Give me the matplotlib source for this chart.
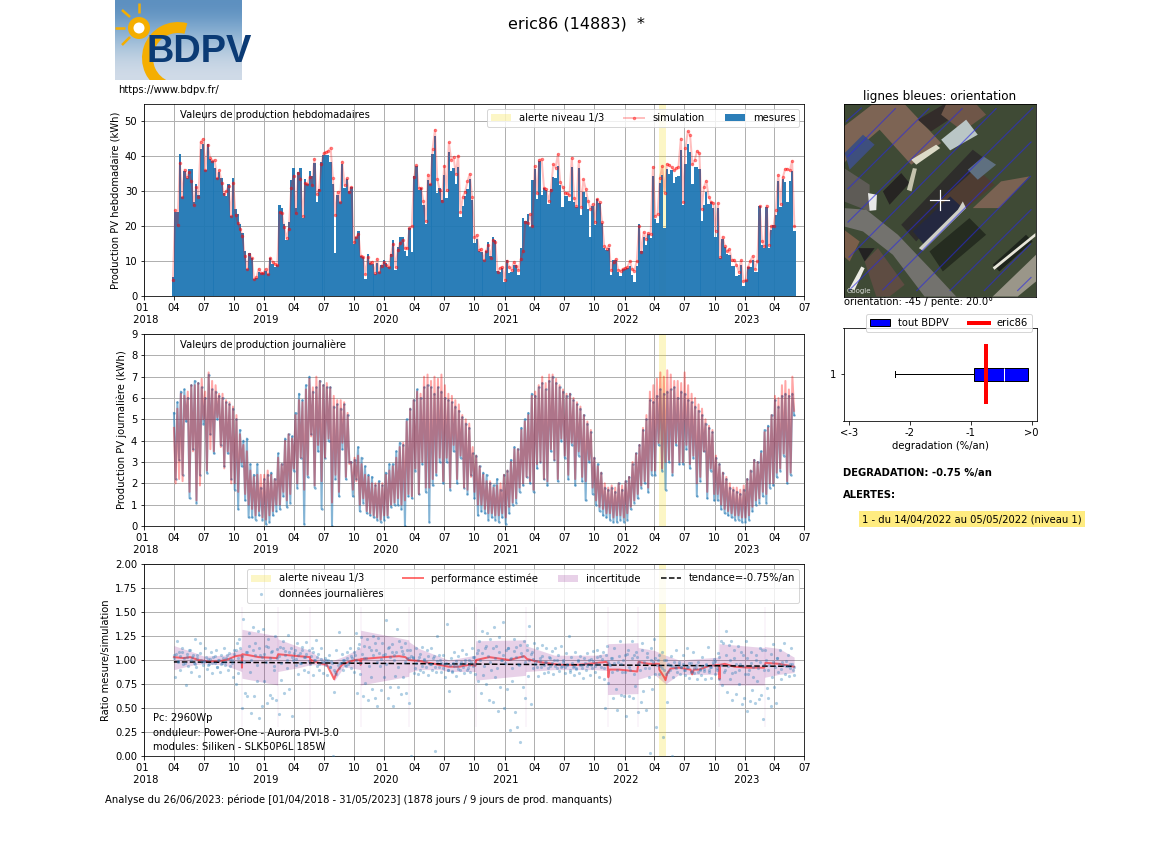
import matplotlib
matplotlib.use("Agg")
import matplotlib.dates as mdates
import matplotlib.pyplot as plt
import numpy as np
from matplotlib.lines import Line2D
from matplotlib.patches import Circle, Patch, Polygon, Wedge

W, H = 1152, 864

# valeurs hebdomadaires (kWh), une ligne par trimestre, depuis avril 2018
week_first, week_last = "2018-03-29", "2023-06-01"
week_mes = [
    5.3, 24, 24, 40.6, 28.5, 35.7, 33.8, 36.3, 36.3, 27, 32, 28.8, 42,
    43.5, 36, 43.5, 39.3, 38.7, 36.7, 33.7, 35.5, 33.7, 29.5, 28.6, 32, 22.8,
    33.8, 25, 23.5, 20.7, 18, 13, 7.8, 12.3, 11, 5, 5.2, 7, 6.5,
    6.5, 7.2, 6.3, 11, 9.2, 8.3, 9, 26, 25.2, 20.7, 16, 21.2, 33.2,
    36.6, 25.2, 35.5, 36.6, 22.3, 33.5, 32.2, 35.7, 34.5, 38, 27, 30.7, 38.5,
    40.3, 40.5, 40.4, 38.5, 32, 12.4, 29, 27, 37.8, 31, 33.5, 30, 31.2,
    14.8, 17, 18.6, 11.5, 11.2, 5, 12, 9.5, 9.2, 6.4, 9.5, 7, 9,
    10.3, 9.5, 8.3, 12, 16, 7.5, 14, 16.9, 16.9, 13, 11.5, 19.5, 12.6,
    34.3, 37.2, 30.5, 31, 26, 20.5, 33.2, 32, 40.7, 45.8, 29.6, 30.8, 27.5,
    34.6, 28, 41.2, 35.8, 36.6, 32.2, 36.9, 22.7, 25.8, 28.7, 30.6, 33.5, 27.5,
    15.3, 16.4, 12.8, 12.5, 10.2, 13, 15.6, 11.5, 17, 16, 7.3, 6.8, 8,
    3.9, 10.2, 6.6, 6.8, 9, 9, 6.1, 13.7, 22.3, 21.5, 23.5, 19.9, 33.2,
    36.4, 27.8, 38.7, 29, 30.9, 30.5, 26.3, 30.6, 34, 33.7, 37.2, 31.8, 25.5,
    28.7, 28.7, 27.2, 36.9, 26.9, 25.6, 36.8, 23.2, 29.9, 28.5, 24.9, 17, 25.9,
    20.2, 27.8, 26.6, 21, 13.7, 13.2, 13.7, 6.1, 10.4, 10.2, 6.8, 5.6, 7.7,
    7.8, 8, 8.7, 6.1, 4, 8.5, 20.6, 12.8, 16.9, 14.5, 17.7, 16.6, 34.4,
    22.1, 20.8, 32.5, 34.7, 19.6, 36.4, 35, 36, 32.3, 34.2, 34.4, 41.8, 26.1,
    37.8, 43.4, 41.3, 32.1, 37, 37, 36.4, 21.6, 26.1, 29.9, 26.3, 26.9, 25.1,
    17, 25.3, 10.9, 16.4, 13.9, 12, 11.8, 8.7, 8.7, 5.6, 6.1, 9, 3,
    4.7, 8.3, 8.3, 10.2, 6.8, 6.8, 25.8, 14.5, 13.7, 25.4, 13.7, 19, 20.2,
    23.2, 33, 25.6, 33.5, 32.6, 26.9, 33, 35.8, 18.5,
]
week_sim = [
    4.5, 24.5, 20.3, 38.2, 28.5, 36.2, 34, 35.5, 32.8, 26, 31.2, 28.5, 44.2,
    45, 36, 43.3, 39.5, 38.8, 39, 33.7, 36, 32.5, 29.3, 30, 31.5, 23,
    32.5, 23.3, 21, 19.3, 17.2, 11.5, 7.8, 12, 10.8, 5, 5.3, 7.8, 6.6,
    6.6, 7.7, 6.2, 11, 9.7, 9.2, 8.9, 24, 23.8, 19.7, 16.6, 19.3, 31,
    34.5, 23.7, 35.3, 33.5, 22.8, 32.3, 32, 34.2, 31.8, 39.3, 29.2, 30.3, 37.7,
    41, 41.2, 41.5, 42.5, 33.7, 23.2, 29.7, 27, 38.5, 31.7, 33.7, 29.8, 31.2,
    15.4, 16.8, 17.7, 11.5, 11.3, 6.2, 11.2, 9.5, 9.8, 6.5, 10.7, 7, 8.7,
    9.6, 8.8, 8.2, 11.8, 15, 8.2, 13.2, 15.2, 16, 13.8, 13.7, 19.5, 20,
    34, 37.4, 31, 30.8, 27.2, 21.5, 34.8, 32, 42.2, 47.6, 33.4, 30.5, 27.2,
    37.3, 30.3, 44, 39, 39.8, 35, 40.2, 24, 28.4, 29.8, 32.8, 35, 28.3,
    17, 17.5, 13.2, 13.5, 10.4, 12.8, 14.6, 10.9, 16, 15.4, 7, 8, 8.3,
    4.7, 10.1, 8.2, 7.5, 9.7, 8.5, 7.5, 10.6, 13, 21.3, 20.9, 23.4, 20,
    37.2, 29.4, 39, 39.2, 31, 30.6, 27.2, 30.4, 37.7, 36.8, 40.6, 32.6, 31.3,
    29.6, 29.4, 28.8, 39.6, 28, 25.8, 38.7, 25.6, 33.4, 30.7, 27.2, 25, 26.3,
    21.3, 27.8, 26.8, 21.3, 14.2, 13.5, 14.5, 7.5, 9.7, 10.6, 7.5, 7.2, 7.8,
    8, 8.2, 10.1, 7.7, 7.3, 9.9, 20, 12.6, 18.3, 16.4, 18, 17.7, 37,
    23, 23.5, 33.7, 37.2, 29.6, 37.8, 37.5, 36.9, 36, 36.6, 37, 45.1, 26.9,
    42.3, 47.2, 46.1, 37.7, 39, 41.5, 40.9, 24.9, 31.3, 33, 28.5, 27, 26.6,
    18.7, 26.6, 11.3, 17, 14.2, 12.8, 13.4, 10.2, 10.4, 9, 7, 10.2, 4.2,
    4.7, 8.3, 10.1, 11.5, 7.7, 10.1, 25.8, 15.8, 14.2, 25.9, 14.7, 20, 20,
    24.7, 34.7, 26.3, 34, 36.4, 36.4, 36, 38.7, 20,
]

# valeurs journalières relevées (kWh), une ligne par trimestre
day_first, day_last = "2018-04-01", "2023-05-31"
day_mes = [
    5.3, 2.2, 5.8, 3.1, 6.3, 2.4, 6.4, 4.9, 6.0, 1.3, 6.6, 3.6, 6.8, 1.1, 6.7, 2.4, 6.5, 4.8,
    6.0, 2.5, 7.1, 4.3, 6.4, 3.4, 6.3, 5.0, 6.1, 3.8, 6.0, 2.8, 5.8, 3.4, 5.7, 2.2,
    5.5, 1.7, 5.0, 0.8, 4.5, 2.8, 4.0, 1.2, 4.1, 0.4, 2.9, 0.4, 2.4, 0.3, 2.9, 0.5, 1.8, 0.3,
    2.2, 0.1, 2.4, 0.2, 2.5, 0.5, 2.2, 0.7, 3.4, 0.8, 2.9, 1.4, 4.1, 0.9, 4.3, 1.1, 4.2, 2.6,
    5.3, 1.8, 6.2, 3.2, 5.9, 0.1, 6.6, 2.3, 7.0, 4.3, 6.3, 1.8, 6.5, 3.5, 6.8, 0.8, 6.6, 3.2,
    6.5, 4.0, 6.5, 0.0, 5.6, 2.2, 5.7, 1.4, 5.5, 3.6, 5.7, 2.2, 5.2, 3.0,
    3.0, 1.4, 3.1, 2.2, 3.7, 0.7, 3.2, 1.1, 2.8, 0.6, 2.4, 0.5, 2.3, 0.4, 1.9, 0.3, 2.1, 0.2,
    1.9, 0.3, 2.5, 0.4, 2.9, 0.9, 2.9, 1.0, 3.5, 1.0, 3.9, 0.8, 3.8, 0.0, 5.0, 1.4,
    5.5, 1.3, 5.9, 2.6, 6.4, 1.5, 6.0, 2.9, 6.5, 1.6, 6.6, 0.2, 6.5, 1.9, 6.2, 2.4, 6.5, 3.0,
    6.3, 2.0, 6.0, 3.0, 5.9, 1.7, 5.8, 3.5, 5.6, 2.0, 5.4, 3.2, 5.1, 1.8, 4.8, 1.5, 4.6, 2.4,
    3.4, 1.3, 3.3, 0.5, 2.8, 0.7, 2.5, 0.6, 2.4, 0.3, 2.0, 0.4, 1.9, 0.3, 2.2, 0.2, 1.7, 0.4,
    2.4, 0.1, 2.6, 0.6, 3.1, 1.0, 3.7, 1.1, 3.6, 1.6, 4.6, 1.9, 5.0, 2.3, 5.3, 2.0,
    6.2, 1.6, 6.1, 2.7, 6.5, 3.0, 6.7, 2.2, 6.4, 1.9, 6.8, 3.5, 7.0, 3.1, 6.7, 2.1, 6.5, 4.0,
    6.3, 3.2, 6.1, 2.2, 6.2, 3.8, 5.9, 1.9, 5.7, 3.3, 5.5, 2.1, 5.2, 1.2, 4.8, 3.0, 4.4, 1.5,
    3.2, 1.0, 2.9, 0.7, 2.5, 0.5, 1.8, 0.4, 1.7, 0.3, 1.8, 0.2, 1.6, 0.2, 2.0, 0.3, 1.7, 0.2,
    2.1, 0.3, 2.3, 0.8, 2.9, 1.1, 3.4, 1.3, 3.8, 1.8, 4.5, 2.0, 5.0, 1.6, 5.9, 2.4,
    5.8, 2.4, 6.1, 3.8, 6.4, 2.6, 6.2, 1.7, 6.3, 3.0, 6.4, 2.4, 6.5, 3.8, 6.0, 2.9, 6.3, 2.9,
    6.2, 3.6, 5.9, 2.7, 5.8, 3.2, 5.6, 1.4, 5.4, 2.1, 5.2, 3.5, 4.8, 1.3, 4.6, 2.6, 4.4, 1.2,
    3.2, 1.2, 2.9, 0.8, 2.5, 0.6, 2.2, 0.5, 1.8, 0.4, 1.7, 0.3, 1.6, 0.3, 1.5, 0.2, 1.7, 0.2,
    2.2, 0.3, 2.6, 0.7, 3.1, 1.0, 3.0, 1.1, 3.5, 1.4, 4.5, 1.1, 4.7, 1.8, 5.2, 1.9,
    5.9, 2.3, 5.6, 2.6, 6.1, 3.3, 6.2, 2.0, 6.1, 2.4, 6.2, 5.2,
]
day_sim = [
    4.6, 2.0, 5.5, 2.2, 6.2, 2.1, 6.1, 5.0, 6.3, 1.6, 6.6, 3.5, 6.6, 1.2, 6.7, 1.9, 6.9, 5.0,
    6.3, 2.6, 7.2, 3.6, 6.8, 3.5, 6.6, 5.1, 6.2, 3.7, 6.2, 2.7, 5.9, 3.5, 5.8, 2.0,
    5.6, 2.0, 5.2, 1.6, 4.3, 3.0, 3.8, 1.5, 3.5, 1.0, 2.6, 0.8, 2.3, 0.5, 2.4, 0.7, 2.4, 0.4,
    2.4, 0.3, 2.6, 0.5, 2.4, 0.7, 2.2, 1.0, 3.2, 1.0, 2.9, 1.6, 4.0, 1.2, 4.3, 1.5, 4.1, 2.7,
    5.2, 2.0, 5.9, 3.2, 5.8, 1.7, 6.4, 2.4, 6.9, 4.2, 6.5, 1.9, 7.0, 3.8, 6.8, 2.1, 6.6, 3.2,
    6.7, 4.1, 6.5, 1.1, 6.1, 2.4, 5.9, 1.6, 5.9, 3.9, 5.8, 2.3, 5.3, 2.9,
    3.0, 1.7, 3.2, 2.1, 3.3, 1.0, 2.9, 1.3, 2.4, 0.7, 2.3, 0.6, 2.0, 0.5, 2.0, 0.4, 2.0, 0.3,
    2.0, 0.5, 2.4, 0.5, 2.6, 1.0, 2.8, 1.1, 3.2, 1.3, 3.7, 1.0, 3.9, 1.2, 4.9, 1.5,
    5.5, 1.4, 5.9, 2.7, 6.3, 1.5, 6.2, 3.0, 7.0, 1.8, 7.1, 1.8, 6.8, 2.2, 7.0, 2.5, 6.9, 3.2,
    7.1, 2.1, 6.6, 3.2, 6.2, 1.8, 6.1, 3.8, 5.9, 2.2, 5.7, 3.3, 5.2, 1.8, 5.0, 1.7, 4.8, 2.3,
    3.7, 1.6, 3.3, 1.0, 2.8, 1.0, 2.4, 0.8, 2.1, 0.6, 2.1, 0.6, 1.8, 0.5, 1.9, 0.5, 2.0, 0.6,
    2.4, 0.4, 2.6, 0.9, 3.0, 1.1, 3.6, 1.3, 3.6, 1.8, 4.5, 2.0, 4.9, 2.3, 5.2, 2.1,
    6.1, 1.7, 6.3, 2.9, 6.6, 3.0, 7.0, 2.2, 6.7, 2.1, 7.1, 3.6, 7.1, 3.1, 6.9, 2.2, 6.6, 4.1,
    6.4, 3.3, 6.2, 2.4, 6.2, 3.9, 6.0, 2.2, 5.8, 3.5, 5.6, 2.3, 5.2, 2.1, 4.9, 3.1, 4.5, 1.8,
    3.2, 1.2, 2.8, 0.9, 2.5, 0.8, 2.0, 0.6, 1.8, 0.6, 1.9, 0.4, 1.8, 0.5, 2.0, 0.5, 1.9, 0.4,
    2.1, 0.6, 2.3, 0.9, 3.0, 1.2, 3.4, 1.5, 3.8, 1.9, 4.6, 2.1, 5.2, 1.8, 6.3, 2.6,
    6.6, 2.6, 6.9, 3.9, 7.2, 2.7, 7.0, 3.0, 7.3, 3.1, 7.1, 2.5, 6.8, 3.9, 6.8, 3.0, 6.7, 3.0,
    7.2, 3.8, 6.6, 2.9, 6.2, 3.3, 6.0, 2.0, 5.7, 2.3, 5.5, 3.5, 5.0, 1.6, 4.7, 2.7, 4.5, 1.5,
    3.3, 1.5, 2.9, 1.0, 2.5, 0.8, 2.3, 0.7, 2.0, 0.6, 1.8, 0.5, 1.8, 0.5, 1.7, 0.4, 1.9, 0.4,
    2.2, 0.5, 2.6, 0.9, 3.1, 1.2, 3.0, 1.3, 3.4, 1.6, 4.4, 1.5, 4.6, 2.0, 5.2, 2.0,
    6.1, 2.5, 6.0, 2.7, 6.6, 3.4, 6.8, 2.1, 6.4, 2.5, 7.0, 5.4,
]

# rapport mesure/simulation relevé, une ligne par trimestre
ratio_first, ratio_last = "2018-04-01", "2023-05-31"
day_ratio = [
    1.05, 0.82, 1.20, 0.98, 1.08, 0.90, 1.12, 0.96, 1.02, 0.74, 1.06, 0.94, 1.10, 0.88, 1.03, 0.97, 1.22, 0.93, 1.05, 0.83, 1.18, 1.00, 0.95,
    0.99, 1.12, 0.91, 1.01, 0.96, 1.08, 0.86, 1.03, 0.97, 1.10, 0.93, 1.00, 0.88, 1.05, 0.97, 1.13, 0.95, 1.02, 0.90, 1.07, 0.94, 1.00, 0.82,
    1.10, 0.75, 1.18, 0.86, 1.22, 0.98, 0.50, 1.43, 0.66, 1.08, 0.62, 1.28, 0.88, 0.45, 1.34, 0.62, 1.18, 0.78, 1.30, 0.40, 1.05, 0.52, 1.32,
    0.78, 1.15, 0.55, 1.22, 0.64, 1.08, 0.60, 0.90, 1.25, 0.58, 1.02, 0.44, 1.14, 0.79, 1.20, 0.66, 1.09, 0.92, 1.26, 0.70, 1.12, 0.42, 1.00, 1.10,
    0.95, 1.18, 0.85, 1.07, 0.97, 1.14, 0.90, 1.03, 1.19, 0.88, 1.10, 0.96, 1.12, 0.84, 1.00, 1.21, 0.94, 1.06, 0.90, 1.13, 0.98, 0.86, 1.02,
    1.00, 0.84, 1.05, 0.93, 0.99, 0.00, 0.67, 0.88, 1.10, 0.95, 1.29, 0.97, 1.06, 0.90, 1.00, 0.94, 1.08, 0.96, 1.12, 0.92, 1.02, 0.88, 1.05,
    1.28, 0.66, 1.17, 0.85, 1.24, 0.62, 1.02, 0.76, 1.22, 0.58, 1.14, 0.82, 0.70, 1.25, 0.60, 1.10, 0.52, 1.23, 0.94, 0.69, 1.18, 0.82, 1.06,
    1.42, 0.60, 1.14, 0.72, 1.08, 0.52, 1.05, 0.83, 1.32, 0.72, 1.20, 0.65, 1.09, 0.82, 1.18, 0.66, 1.02, 0.55, 1.10, 0.00, 1.02, 0.86, 0.92,
    1.12, 0.85, 1.03, 0.90, 1.14, 0.88, 1.00, 0.93, 1.10, 0.84, 0.96, 1.13, 0.90, 1.04, 0.05, 0.88, 1.25, 0.93, 1.00, 0.87, 1.05, 0.96, 0.82,
    1.38, 0.90, 0.68, 1.02, 0.87, 0.97, 1.08, 0.83, 0.94, 1.04, 0.90, 0.98, 1.10, 0.86, 0.97, 1.06, 0.92, 1.00, 0.88, 1.12, 0.94, 1.03, 0.85,
    1.07, 0.78, 1.20, 0.66, 1.30, 0.84, 1.12, 0.75, 1.28, 0.58, 1.22, 0.90, 0.56, 1.34, 0.82, 1.15, 0.47, 1.24, 0.72, 1.00, 1.40, 0.50, 1.10,
    0.70, 1.12, 0.27, 1.02, 0.78, 1.22, 0.46, 1.14, 0.30, 0.95, 0.15, 1.07, 0.72, 1.20, 0.60, 1.16, 0.83, 1.35, 0.54, 1.08, 0.92, 1.18, 0.99,
    1.12, 0.83, 1.02, 0.93, 1.16, 0.86, 0.98, 1.12, 0.88, 1.03, 0.94, 1.09, 0.85, 1.00, 1.13, 0.92, 1.05, 0.89, 1.15, 0.94, 1.00, 0.86, 1.07,
    0.95, 1.25, 0.87, 1.03, 0.93, 0.84, 1.08, 0.92, 1.00, 0.86, 1.04, 0.95, 0.81, 1.02, 0.90, 1.07, 0.96, 0.84, 1.01, 0.92, 1.09, 0.88, 0.97,
    1.10, 0.82, 1.04, 0.93, 1.08, 0.80, 0.50, 1.15, 0.76, 0.96, 1.02, 0.88, 0.60, 1.12, 0.70, 0.48, 0.98, 1.20, 0.64, 0.88, 0.62, 1.05, 0.42,
    1.10, 0.63, 0.90, 1.20, 0.60, 1.05, 0.73, 1.03, 0.46, 0.98, 0.56, 1.18, 0.68, 0.92, 0.48, 1.07, 0.82, 0.03, 1.12, 0.70, 1.22, 0.85, 0.30,
    1.00, 0.85, 0.94, 1.08, 0.20, 0.90, 1.00, 0.56, 0.87, 0.95, 1.04, 0.00, 0.82, 0.93, 1.10, 0.88, 0.98, 0.85, 0.93, 1.05, 0.90, 0.84, 1.12,
    0.93, 0.81, 0.97, 0.89, 1.08, 0.86, 0.92, 0.80, 0.98, 0.90, 0.84, 1.03, 0.91, 0.80, 0.95, 1.14, 0.87, 0.93, 0.81, 0.98, 1.01, 0.85, 0.90,
    1.07, 0.80, 1.20, 0.74, 1.18, 0.90, 1.30, 0.67, 1.16, 0.80, 1.20, 0.58, 1.10, 0.88, 0.65, 1.15, 0.75, 0.96, 0.54, 1.05, 0.60, 1.20, 0.47,
    0.85, 0.57, 1.08, 0.69, 0.93, 0.55, 1.00, 0.78, 0.59, 1.12, 0.64, 0.39, 0.90, 1.10, 0.71, 0.60, 0.95, 0.52, 0.82, 1.17, 0.72, 0.55, 1.02,
    0.88, 1.10, 0.80, 0.98, 1.18, 0.85, 0.94, 1.05, 0.83, 0.96, 1.12, 0.90, 0.84,
]
# jours de beau temps, resserrés autour de la performance
day_ratio_near = [
    1.02, 1.06, 0.99, 1.04, 1.08, 0.97, 1.03, 1.10, 1.00, 1.05, 0.96, 1.02, 1.07, 0.98,
    0.99, 1.03, 0.95, 1.01, 0.97, 1.04, 0.93, 1.00, 0.96, 1.02, 0.98, 1.05, 1.01, 0.97,
    1.06, 1.10, 1.02, 1.12, 1.04, 0.98, 1.08, 1.15, 1.00, 1.10, 1.05, 0.95, 1.12, 1.03,
    1.06, 0.98, 1.14, 1.02, 1.09, 0.94, 1.11, 1.04, 0.97, 1.13, 1.05, 1.00, 1.08, 1.03,
    1.07, 1.01, 1.05, 0.97, 1.10, 1.03, 1.06, 0.99, 1.04, 1.08, 1.00, 1.03, 0.96, 1.01,
    0.98, 0.95, 1.00, 0.93, 0.97, 0.90, 0.85, 0.92, 0.97, 1.00, 0.95, 1.02, 0.98, 1.04,
    1.08, 1.00, 1.12, 0.97, 1.06, 1.15, 1.02, 0.94, 1.10, 1.05, 1.18, 0.98, 1.07, 1.01,
    1.05, 0.96, 1.12, 1.03, 1.17, 1.00, 1.08, 0.93, 1.14, 1.06, 0.98, 1.10, 1.02, 1.04,
    1.03, 0.97, 1.00, 1.06, 0.94, 1.01, 0.98, 1.04, 0.96, 1.02, 0.93, 0.99, 1.05, 0.97,
    0.92, 0.97, 0.90, 0.95, 0.89, 0.94, 0.99, 0.91, 0.96, 0.93, 1.00, 0.90, 0.95, 0.98,
    1.03, 0.96, 1.10, 1.00, 1.07, 0.94, 1.15, 1.04, 0.98, 1.12, 1.02, 0.92, 1.08, 1.00,
    1.05, 0.97, 1.13, 1.01, 0.92, 1.09, 1.03, 0.96, 1.16, 1.04, 0.98, 1.10, 1.00, 1.06,
    1.01, 0.96, 0.93, 0.99, 1.04, 0.95, 0.98, 0.92, 1.02, 0.97, 0.94, 1.00, 0.96, 0.93,
    0.98, 0.93, 0.96, 0.90, 0.97, 0.94, 0.91, 0.99, 0.95, 0.92, 0.97, 0.94, 1.00, 0.95,
    0.99, 0.94, 1.03, 0.96, 1.01, 0.92, 1.05, 0.98, 0.95, 1.02, 0.97, 0.90, 1.04, 0.96,
    1.00, 0.88, 1.06, 0.93, 1.02, 0.85, 1.08, 0.96, 0.90, 1.10, 0.98, 1.03, 0.92, 1.00,
    0.98, 1.02, 0.95, 1.05, 0.92, 1.00, 0.85, 0.96, 0.90, 0.94, 0.98, 0.92, 0.96, 0.93,
    0.96, 0.90, 0.93, 0.97, 0.88, 0.92, 0.95, 0.87, 0.91, 0.94, 0.89, 0.96, 0.90, 0.93,
    0.96, 0.99, 0.92, 1.03, 0.95, 0.88, 1.05, 0.94, 1.00, 0.86, 1.02, 0.96, 0.90, 1.08,
    0.94, 0.85, 1.02, 0.90, 0.97, 0.82, 1.05, 0.92, 0.98, 1.10, 0.95, 1.00, 0.90, 1.06,
    0.98, 0.93, 1.02, 0.96, 0.91, 0.95, 0.99, 0.94, 0.92, 0.96, 0.93,
]

# performance estimée, incertitude et tendance
perf_dates = ["2018-04-01", "2018-05-01", "2018-05-20", "2018-06-15", "2018-07-15", "2018-08-15",
              "2018-09-15", "2018-10-05", "2018-10-24", "2018-10-25", "2018-10-26", "2018-11-15",
              "2018-12-15", "2019-01-15", "2019-02-08", "2019-02-12", "2019-03-15", "2019-04-15",
              "2019-05-20", "2019-05-21", "2019-05-23", "2019-06-15", "2019-07-10", "2019-07-25",
              "2019-08-01", "2019-08-10", "2019-08-25", "2019-09-15", "2019-10-05", "2019-10-20",
              "2019-10-21", "2019-10-23", "2020-01-01", "2020-02-15", "2020-03-05", "2020-03-15",
              "2020-04-15", "2020-06-01", "2020-07-15", "2020-08-15", "2020-09-15", "2020-10-04",
              "2020-10-06", "2020-11-15", "2021-01-15", "2021-03-01", "2021-03-10", "2021-04-15",
              "2021-06-15", "2021-08-15", "2021-10-10", "2021-11-05", "2021-11-10", "2021-11-12",
              "2021-11-15", "2021-12-15", "2022-02-08", "2022-02-12", "2022-03-15", "2022-04-15",
              "2022-04-16", "2022-05-01", "2022-05-05", "2022-05-10", "2022-05-20", "2022-06-15",
              "2022-07-20", "2022-07-25", "2022-07-30", "2022-08-15", "2022-09-15", "2022-10-15",
              "2022-10-16", "2022-10-18", "2022-11-01", "2022-12-01", "2023-01-15", "2023-03-01",
              "2023-03-05", "2023-04-15", "2023-05-31"]
perf_vals = [1.03, 1.02, 1.03, 1.00, 0.985, 0.985, 1.01, 1.04, 1.05, 0.92, 1.06, 1.05, 1.03, 1.025,
             1.02, 1.06, 1.05, 1.04, 1.03, 0.96, 1.00, 0.97, 0.95, 0.85, 0.80, 0.88, 0.95, 0.98,
             1.00, 1.005, 0.95, 1.01, 1.03, 1.04, 1.03, 1.00, 0.99, 0.96, 0.93, 0.93, 0.95, 0.94,
             1.00, 1.03, 1.00, 1.04, 1.01, 0.98, 0.95, 0.95, 0.97, 0.98, 0.97, 0.82, 0.90, 0.90,
             0.88, 0.98, 0.96, 0.96, 0.90, 0.82, 0.79, 0.86, 0.91, 0.92, 0.90, 0.85, 0.90, 0.90,
             0.94, 0.95, 0.80, 0.95, 0.96, 0.93, 0.92, 0.92, 0.97, 0.96, 0.93]

band_dates = ["2018-04-01", "2018-06-01", "2018-07-01", "2018-09-01", "2018-10-24", "2018-10-25",
              "2019-02-10", "2019-02-11", "2019-04-15", "2019-05-20", "2019-06-15", "2019-07-15",
              "2019-08-01", "2019-09-01", "2019-10-20", "2019-10-21", "2020-03-15", "2020-03-16",
              "2020-04-15", "2020-06-15", "2020-07-15", "2020-10-04", "2020-10-05", "2021-03-05",
              "2021-03-06", "2021-06-01", "2021-10-01", "2021-11-09", "2021-11-10", "2022-02-10",
              "2022-02-11", "2022-04-01", "2022-05-05", "2022-06-15", "2022-10-14", "2022-10-15",
              "2023-03-01", "2023-03-02", "2023-04-15", "2023-05-31"]
band_up = [1.15, 1.08, 1.04, 1.05, 1.12, 1.32, 1.25, 1.22, 1.14, 1.10, 1.03, 1.00, 1.00, 1.04, 1.13,
           1.31, 1.21, 1.19, 1.12, 1.04, 1.00, 1.05, 1.20, 1.21, 1.15, 1.05, 1.05, 1.07, 1.17, 1.18,
           1.13, 1.10, 1.05, 1.00, 1.03, 1.17, 1.13, 1.14, 1.12, 1.03]
band_low = [0.90, 0.95, 0.96, 0.95, 0.88, 0.81, 0.74, 0.88, 0.92, 0.95, 0.95, 0.93, 0.78, 0.93, 0.90,
            0.74, 0.83, 0.87, 0.90, 0.90, 0.88, 0.88, 0.79, 0.84, 0.88, 0.90, 0.90, 0.89, 0.64, 0.65,
            0.80, 0.85, 0.75, 0.85, 0.85, 0.74, 0.74, 0.82, 0.85, 0.87]
spike_dates = ["2018-10-25", "2019-02-11", "2019-05-21", "2019-10-21", "2020-03-16", "2020-10-05",
               "2021-03-06", "2021-11-10", "2022-02-11", "2022-10-15", "2023-03-02"]

trend_dates = ["2018-04-01", "2023-05-31"]
trend_vals = [0.98, 0.934]

alert_span = ["2022-04-14", "2022-05-05"]
box_stats = [{"whislo": -2.25, "q1": -0.95, "med": -0.45, "q3": -0.05, "whishi": -0.05, "fliers": []}]
degradation = -0.75
box_ticks = [-3, -2, -1, 0]
box_labels = ["<-3", "-2", "-1", ">0"]

ALERT = "#f7dc1e"


def axes_px(fig, left, top, right, bottom):
    return fig.add_axes([left / W, 1 - bottom / H, (right - left) / W, (bottom - top) / H])


def ftext(fig, x, y, s, **kw):
    kw.setdefault("va", "center")
    return fig.text(x / W, 1 - y / H, s, **kw)


def to_num(dates):
    return mdates.date2num(np.array(dates, dtype="datetime64[D]"))


def span_num(first, last, n):
    return np.linspace(to_num([first])[0], to_num([last])[0], n)


def time_axis(ax):
    ax.set_xlim(to_num(["2018-01-01"])[0], to_num(["2023-07-01"])[0])
    ticks, labels = [], []
    for year in range(2018, 2024):
        for month in (1, 4, 7, 10):
            d = f"{year}-{month:02d}-01"
            if d > "2023-07-01":
                continue
            ticks.append(to_num([d])[0])
            labels.append(f"01 \n {year}" if month == 1 else f"{month:02d}")
    ax.set_xticks(ticks)
    ax.set_xticklabels(labels)
    ax.grid(True, color="#b0b0b0", linewidth=1)
    ax.set_axisbelow(True)


fig = plt.figure(figsize=(W / 72, H / 72), dpi=72)

# hebdomadaire
ax1 = axes_px(fig, 144.3, 104, 804.3, 296)
x_week = span_num(week_first, week_last, len(week_mes))
ax1.axvspan(*to_num(alert_span), color=ALERT, alpha=0.25, lw=0, label="alerte niveau 1/3")
ax1.bar(x_week, week_mes, width=7.2, color="tab:blue", alpha=0.95, lw=0, label="mesures")
ax1.plot(x_week, week_sim, color=(1, 0, 0, 0.25), lw=2, marker=".", ms=5,
         mfc=(1, 0, 0, 0.4), mec=(1, 0, 0, 0.4), label="simulation")
ax1.set_ylim(0, 55)
ax1.set_yticks(range(0, 51, 10))
ax1.set_ylabel("Production PV hebdomadaire (kWh)", labelpad=4)
time_axis(ax1)
h, l = ax1.get_legend_handles_labels()
order = [l.index("alerte niveau 1/3"), l.index("simulation"), l.index("mesures")]
ax1.legend([h[i] for i in order], [l[i] for i in order], ncol=3, loc="upper right",
           fontsize=10, borderaxespad=0.5)
ftext(fig, 180, 115, "Valeurs de production hebdomadaires", fontsize=10)

# journalier
ax2 = axes_px(fig, 144.3, 334, 804.3, 526)
x_day = span_num(day_first, day_last, len(day_mes))
x_sim = span_num(day_first, day_last, len(day_sim))
ax2.axvspan(*to_num(alert_span), color=ALERT, alpha=0.25, lw=0)
ax2.plot(x_day, day_mes, color="tab:blue", alpha=0.55, lw=2, marker=".", ms=5, mec="none")
ax2.plot(x_sim, day_sim, color="red", alpha=0.35, lw=2)
ax2.set_ylim(0, 9)
ax2.set_yticks(range(0, 10))
ax2.set_ylabel("Production PV journalière (kWh)", labelpad=4)
time_axis(ax2)
ftext(fig, 180, 345, "Valeurs de production journalière", fontsize=10)

# ratio
ax3 = axes_px(fig, 144.3, 564, 804.3, 756)
x_ratio = span_num(ratio_first, ratio_last, len(day_ratio))
x_near = span_num(ratio_first, ratio_last, len(day_ratio_near))
x_band = to_num(band_dates)
ax3.axvspan(*to_num(alert_span), color=ALERT, alpha=0.25, lw=0, label="alerte niveau 1/3")
ax3.scatter(x_ratio, day_ratio, s=10, color="tab:blue", alpha=0.35, linewidths=0, zorder=2.6,
            label="données journalières")
ax3.scatter(x_near, day_ratio_near, s=10, color="tab:blue", alpha=0.35, linewidths=0, zorder=2.6)
ax3.fill_between(x_band, band_low, band_up, color="purple", alpha=0.18, lw=0, label="incertitude")
ax3.vlines(to_num(spike_dates), 0.3, 1.55, color="purple", alpha=0.04, lw=2)
ax3.plot(to_num(perf_dates), perf_vals, color="red", alpha=0.55, lw=2, label="performance estimée")
ax3.plot(to_num(trend_dates), trend_vals, color="black", ls="--", lw=1.5, label="tendance=-0.75%/an")
ax3.set_ylim(0, 2)
ax3.set_yticks(np.arange(0, 2.01, 0.25))
ax3.set_yticklabels([f"{v:.2f}" for v in np.arange(0, 2.01, 0.25)])
ax3.set_ylabel("Ratio mesure/simulation", labelpad=4)
time_axis(ax3)
h, l = ax3.get_legend_handles_labels()
want = ["alerte niveau 1/3", "données journalières", "performance estimée", "incertitude", "tendance=-0.75%/an"]
order = [l.index(w) for w in want]
ax3.legend([h[i] for i in order], [l[i] for i in order], ncol=4, loc="upper right",
           fontsize=10, borderaxespad=0.5)
ftext(fig, 153, 718, "Pc: 2960Wp", fontsize=10)
ftext(fig, 153, 733, "onduleur: Power-One - Aurora PVI-3.0", fontsize=10)
ftext(fig, 153, 747, "modules: Siliken - SLK50P6L 185W", fontsize=10)
ftext(fig, 105, 800, "Analyse du 26/06/2023: période [01/04/2018 - 31/05/2023] (1878 jours / 9 jours de prod. manquants)", fontsize=10)

# vue satellite, dessinée à la main
ax4 = axes_px(fig, 844, 104, 1036, 296.5)
ax4.set_xlim(43, 620)
ax4.set_ylim(635, 58)
ax4.set_xticks([])
ax4.set_yticks([])
ax4.set_facecolor("#3f4a35")
photo = [
    ("#7d6454", [(43, 125), (130, 58), (225, 58), (335, 175), (245, 240), (150, 135), (75, 200), (43, 235)]),
    ("#3e4f7e", [(45, 205), (100, 150), (135, 180), (60, 255)]),
    ("#332c2a", [(265, 105), (345, 58), (430, 58), (305, 140)]),
    ("#6f5648", [(350, 58), (440, 58), (470, 90), (400, 140), (335, 90)]),
    ("#bac6c6", [(335, 165), (410, 105), (445, 150), (362, 197)]),
    ("#262422", [(160, 320), (215, 265), (240, 295), (180, 360)]),
    ("#5e5b56", [(43, 250), (120, 300), (120, 380), (43, 350)]),
    ("#73726e", [(43, 370), (110, 375), (205, 450), (310, 560), (380, 635), (285, 635), (190, 510), (100, 440), (43, 425)]),
    ("#7a5e4a", [(43, 435), (90, 470), (60, 530), (43, 515)]),
    ("#5e4c42", [(105, 530), (145, 490), (225, 600), (180, 635), (140, 635)]),
    ("#232222", [(85, 490), (135, 490), (105, 530)]),
    ("#9a9689", [(490, 635), (620, 510), (620, 590), (565, 635)]),
    ("#2e2d2b", [(215, 420), (430, 195), (470, 225), (260, 470)]),
    ("#4e3c32", [(330, 350), (440, 250), (495, 300), (410, 372)]),
    ("#242840", [(250, 440), (362, 335), (395, 365), (282, 478)]),
    ("#5f7080", [(415, 255), (462, 215), (500, 240), (445, 285)]),
    ("#7a6252", [(430, 370), (515, 290), (600, 275), (510, 370)]),
    ("#252c20", [(300, 500), (420, 400), (470, 450), (340, 560)]),
    ("#1e241c", [(490, 540), (590, 450), (610, 470), (510, 560)]),
    ("#e8e6da", [(490, 548), (618, 445), (618, 455), (495, 555)]),
    ("#dddbc8", [(245, 225), (320, 180), (332, 190), (260, 240)]),
    ("#c4c2ac", [(232, 315), (250, 250), (262, 252), (246, 320)]),
    ("#e8e8e8", [(115, 325), (142, 330), (140, 376), (120, 378)]),
    ("#cfcfc6", [(268, 490), (385, 375), (400, 350), (410, 370), (280, 498)]),
    ("#ecece4", [(60, 610), (95, 545), (105, 550), (75, 615)]),
]
for col, pts in photo:
    ax4.add_patch(Polygon(pts, closed=True, facecolor=col, edgecolor="none"))
orient_x0 = [50, 55, 55, 55, 58, 60, 160, 262, 362, 465, 565]
orient_y0 = [110, 215, 312, 412, 517, 615, 615, 617, 617, 617, 617]
orient_x1 = [95, 197, 298, 398, 500, 610, 605, 603, 605, 603, 605]
orient_y1 = [70, 72, 72, 72, 72, 70, 172, 275, 375, 478, 578]
for xa, ya, xb, yb in zip(orient_x0, orient_y0, orient_x1, orient_y1):
    ax4.plot([xa, xb], [ya, yb], color="#2a2ae0", alpha=0.6, lw=1.2)
ax4.plot([300, 360], [345, 345], color="white", lw=1.2)
ax4.plot([330, 330], [315, 375], color="white", lw=1.2)
ax4.text(50, 628, "Google", color="white", fontsize=7, va="bottom", alpha=0.8)
ax4.set_title("lignes bleues: orientation", fontsize=12, pad=4)
ftext(fig, 844, 302, "orientation: -45 / pente: 20.0°", fontsize=10)

# boite de dégradation
ax5 = axes_px(fig, 843.5, 327.5, 1037, 421)
ax5.bxp(box_stats, vert=False, widths=0.135, patch_artist=True, showfliers=False,
        boxprops={"facecolor": "blue", "edgecolor": "black"},
        medianprops={"color": "white", "linewidth": 1},
        whiskerprops={"color": "black"}, capprops={"color": "black"})
ax5.vlines(degradation, 0.68, 1.32, color="red", lw=4, zorder=5)
ax5.set_xlim(-3.09, 0.09)
ax5.set_ylim(0.5, 1.5)
ax5.set_xticks(box_ticks)
ax5.set_xticklabels(box_labels)
ax5.set_yticks([1])
ax5.set_yticklabels(["1"])
ax5.set_xlabel("degradation (%/an)", labelpad=3)
ax5.legend([Patch(facecolor="blue", edgecolor="black"), Line2D([], [], color="red", lw=4)],
           ["tout BDPV", "eric86"], ncol=2, loc="lower center", bbox_to_anchor=(0.545, 0.95),
           fontsize=10, borderaxespad=0, columnspacing=2.0)

ftext(fig, 843, 473, "DEGRADATION: -0.75 %/an", fontsize=10, fontweight="bold")
ftext(fig, 843, 495, "ALERTES:", fontsize=10, fontweight="bold")
ftext(fig, 862, 519, "1 - du 14/04/2022 au 05/05/2022 (niveau 1)", fontsize=10,
      bbox={"facecolor": "#ffec80", "edgecolor": "none", "pad": 3})

# titre et logo
ftext(fig, 576, 24, "eric86 (14883)  *", fontsize=16, ha="center")
ftext(fig, 118, 90, "https://www.bdpv.fr/", fontsize=10)
ax0 = axes_px(fig, 115, 0, 242, 80)
ax0.axis("off")
sky = np.array([[0.36, 0.56, 0.75], [0.52, 0.68, 0.82], [0.70, 0.79, 0.87], [0.82, 0.86, 0.91]])[:, None, :]
ax0.imshow(sky, extent=(115, 242, 80, 0), aspect="auto", interpolation="bicubic")
ax0.set_xlim(115, 242)
ax0.set_ylim(80, 0)
ax0.add_patch(Wedge((178, 58), 36, 112, 285, width=11, facecolor="#f5ae00", edgecolor="none"))
ax0.add_patch(Circle((139, 28), 11, facecolor="#f5ae00", edgecolor="none"))
ax0.add_patch(Circle((139, 28), 5.5, facecolor="white", edgecolor="none"))
for xa, ya, xb, yb in [(139, 3, 139, 13), (122, 10, 130, 17), (115, 28, 125, 28), (122, 45, 130, 37)]:
    ax0.plot([xa, xb], [ya, yb], color="#f5ae00", lw=2.5, solid_capstyle="butt")
ax0.text(199.5, 52, "BDPV", color="#0b3b75", fontsize=38, fontweight="bold", ha="center", va="center",
         family=["Liberation Sans Narrow", "Liberation Sans"])

fig.savefig("out.png", dpi=72)
